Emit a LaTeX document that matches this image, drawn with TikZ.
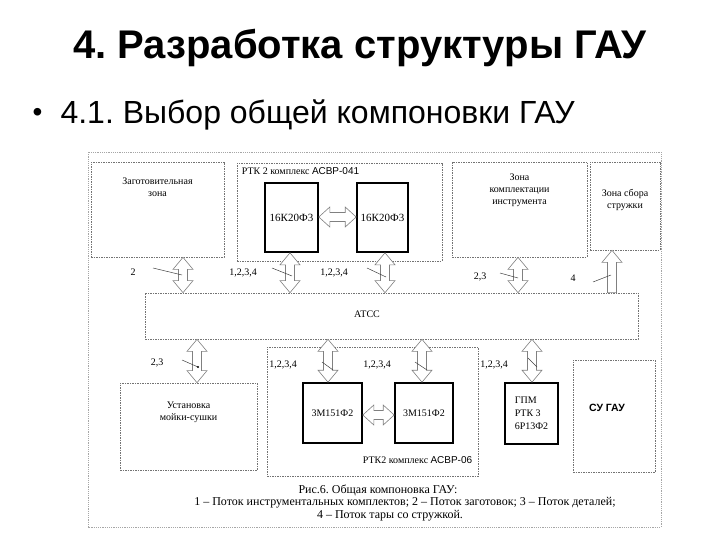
\documentclass[tikz,border=0pt]{standalone}
\usepackage{fontspec}
\setmainfont{Liberation Serif}
\setsansfont{Liberation Sans}
\usetikzlibrary{positioning,calc}
\frenchspacing

% hollow block arrows between two named nodes
\newcommand\vpotok[3]{% column, upper node, lower node
  \draw[flow] let \p1=(#1|-#2.south), \p2=(#1|-#3.north) in
    (\x1,\y1) -- (\x1-10pt,\y1-12pt) -- (\x1-4.5pt,\y1-12pt) -- (\x1-4.5pt,\y2+12pt)
    -- (\x1-10pt,\y2+12pt) -- (\x1,\y2) -- (\x1+10pt,\y2+12pt) -- (\x1+4.5pt,\y2+12pt)
    -- (\x1+4.5pt,\y1-12pt) -- (\x1+10pt,\y1-12pt) -- cycle;}
\newcommand\vverh[3]{% column, upper node (tip), lower node (base)
  \draw[flow] let \p1=(#1|-#2.south), \p2=(#1|-#3.north) in
    (\x1,\y1) -- (\x1-10pt,\y1-12pt) -- (\x1-4.5pt,\y1-12pt) -- (\x1-4.5pt,\y2)
    -- (\x1+4.5pt,\y2) -- (\x1+4.5pt,\y1-12pt) -- (\x1+10pt,\y1-12pt) -- cycle;}
\newcommand\hpotok[3]{% row, left node, right node
  \draw[flow] let \p1=(#2.east|-#1), \p2=(#3.west|-#1) in
    (\x1,\y1) -- (\x1+11pt,\y1+10pt) -- (\x1+11pt,\y1+4.5pt) -- (\x2-11pt,\y1+4.5pt)
    -- (\x2-11pt,\y1+10pt) -- (\x2,\y1) -- (\x2-11pt,\y1-10pt) -- (\x2-11pt,\y1-4.5pt)
    -- (\x1+11pt,\y1-4.5pt) -- (\x1+11pt,\y1-10pt) -- cycle;}

\begin{document}
\begin{tikzpicture}[x=1pt, y=-1pt,
    ramka/.style={draw=black!35, dash pattern=on 1.2pt off 1pt, line width=0.6pt},
    zone/.style={draw=black!55, dash pattern=on 1.5pt off 1pt, line width=0.7pt, inner sep=0pt},
    stanok/.style={draw=black, line width=1.6pt, fill=white, inner sep=0pt,
      font=\fontsize{10}{12}\selectfont, align=center},
    flow/.style={draw=black!50, fill=white, line width=0.6pt},
    ztxt/.style={font=\fontsize{10}{12}\selectfont, align=center, inner sep=0pt},
    etq/.style={font=\fontsize{10}{12}\selectfont, inner sep=1pt},
    lead/.style={draw=black!75, line width=0.5pt},
    podpis/.style={font=\fontsize{12}{14}\selectfont, inner sep=0pt}
  ]
  \useasboundingbox (0,0) rectangle (720,540);
  \node[font=\fontsize{40}{46}\sffamily\bfseries, anchor=base] (titel) at (360,59)
    {4. Разработка структуры ГАУ};
  \node[font=\fontsize{32}{36}\sffamily, anchor=base west] (punkt) at (57,124)
    {4.1. Выбор общей компоновки ГАУ};
  \node[font=\fontsize{28}{32}\sffamily, left=11pt of punkt.west] {•};

  \draw[ramka] (88,152) rectangle (661,527);
  % zones
  \node[zone, minimum width=133pt, minimum height=95pt] (zag) at (157.5,209.5) {};
  \node[ztxt, below=16pt of zag.north] {Заготовительная\\зона};
  \node[zone, minimum width=205pt, minimum height=98pt] (rtk1) at (339.5,212) {};
  \node[ztxt, anchor=north west] at ($(rtk1.north west)+(5,5)$)
    {РТК 2 комплекс {\sffamily АСВР-041}};
  \node[stanok, minimum width=53pt, minimum height=69pt, font=\fontsize{11}{12}\selectfont]
    (m1) at (291.5,217.5) {16К20Ф3};
  \node[stanok, minimum width=51pt, minimum height=69pt, font=\fontsize{11}{12}\selectfont]
    (m2) at (382.5,217.5) {16К20Ф3};
  \node[zone, minimum width=135pt, minimum height=95pt] (kompl) at (519.5,209.5) {};
  \node[ztxt, below=12pt of kompl.north] {Зона\\комплектации\\инструмента};
  \node[zone, minimum width=70pt, minimum height=88pt] (struzh) at (625,206) {};
  \node[ztxt, below=27pt of struzh.north] {Зона сбора\\стружки};
  \node[zone, minimum width=493pt, minimum height=46pt] (atcc) at (391.5,316) {};
  \node[ztxt] at (367,314) {АТСС};
  \node[zone, minimum width=137pt, minimum height=87pt] (moika) at (188.5,426.5) {};
  \node[ztxt, below=19pt of moika.north] {Установка\\мойки-сушки};
  \node[zone, minimum width=211pt, minimum height=129pt] (rtk2) at (372.5,411.5) {};
  \node[ztxt, anchor=south east] at ($(rtk2.south east)+(-6,-13)$)
    {РТК2 комплекс {\sffamily АСВР-06}};
  \node[stanok, minimum width=59pt, minimum height=60pt] (m3) at (332.5,413) {3М151Ф2};
  \node[stanok, minimum width=58pt, minimum height=60pt] (m4) at (424,413) {3М151Ф2};
  \node[stanok, minimum width=53pt, minimum height=61pt, align=left,
    font=\fontsize{10}{13}\selectfont] (gpm) at (531.5,413.5) {ГПМ\\РТК 3\\6Р13Ф2};
  \node[zone, minimum width=82pt, minimum height=112pt] (su) at (614,416) {};
  \node[font=\fontsize{10.5}{12}\sffamily\bfseries, inner sep=0pt] at (607,408) {СУ ГАУ};

  % flows
  \coordinate (k1) at (183,0);
  \coordinate (k2) at (290,0);
  \coordinate (k3) at (385,0);
  \coordinate (k4) at (518,0);
  \coordinate (k5) at (612,0);
  \coordinate (k6) at (197,0);
  \coordinate (k7) at (328,0);
  \coordinate (k8) at (422,0);
  \coordinate (k9) at (532,0);
  \coordinate (r1) at (0,217);
  \coordinate (r2) at (0,415);
  \vpotok{k1}{zag}{atcc}
  \vpotok{k2}{m1}{atcc}
  \vpotok{k3}{m2}{atcc}
  \vpotok{k4}{kompl}{atcc}
  \vverh{k5}{struzh}{atcc}
  \vpotok{k6}{atcc}{moika}
  \vpotok{k7}{atcc}{m3}
  \vpotok{k8}{atcc}{m4}
  \vpotok{k9}{atcc}{gpm}
  \hpotok{r1}{m1}{m2}
  \hpotok{r2}{m3}{m4}

  % flow numbers
  \node[etq] (l1) at (133,272) {2};
  \node[etq] (l2) at (243,273) {1,2,3,4};
  \node[etq] (l3) at (334,273) {1,2,3,4};
  \node[etq] (l4) at (480,277) {2,3};
  \node[etq] (l5) at (573,278) {4};
  \node[etq] (l6) at (157,363) {2,3};
  \node[etq] (l7) at (283,365) {1,2,3,4};
  \node[etq] (l8) at (377,365) {1,2,3,4};
  \node[etq] (l9) at (494,365) {1,2,3,4};
  \draw[lead] (153,268) -- (182,275);
  \draw[lead] (272,268) -- (292,276);
  \draw[lead] (367,268) -- (386,277);
  \draw[lead] (500,273) -- (518,278);
  \draw[lead] (593,282) -- (611,275);
  \draw[lead] (182,360) -- (198,367);
  \fill (198,367) circle (1.2pt);
  \draw[lead] (322,362) -- (333,370);
  \draw[lead] (415,362) -- (427,370);
  \draw[lead] (528,358) -- (537,367);

  % caption
  \node[podpis] at (378,490) {Рис.6. Общая компоновка ГАУ:};
  \node[podpis] at (405,503) {1 -- Поток инструментальных комплектов; 2 -- Поток заготовок; 3 -- Поток деталей;};
  \node[podpis] at (390,516) {4 -- Поток тары со стружкой.};
\end{tikzpicture}
\end{document}
